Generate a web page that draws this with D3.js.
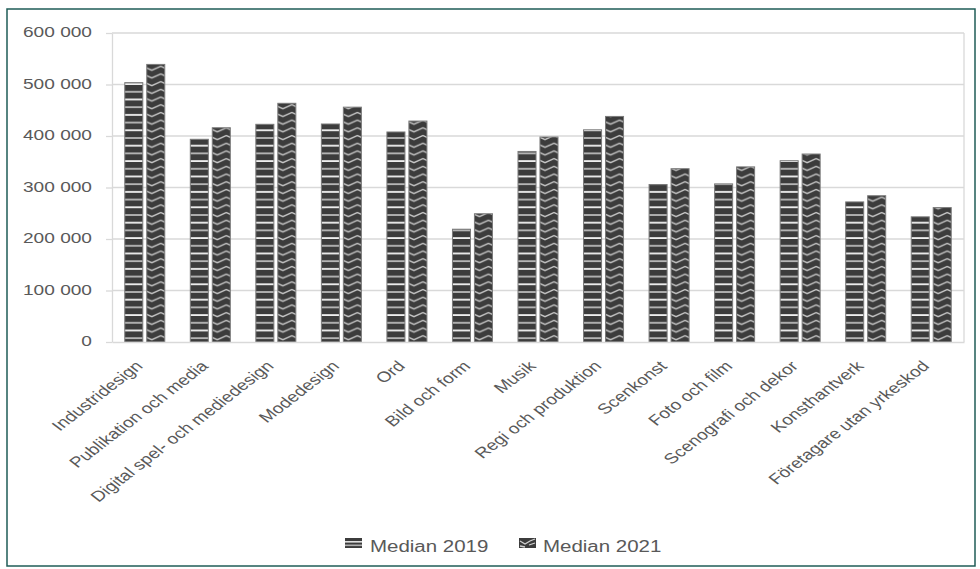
<!DOCTYPE html>
<html>
<head>
<meta charset="utf-8">
<script src="https://cdn.jsdelivr.net/npm/d3@7"></script>
<style>
  html, body { margin: 0; padding: 0; background: #fff; }
  svg { display: block; font-family: "Liberation Sans", Arial, sans-serif; }
</style>
</head>
<body>
<svg id="chart" width="980" height="569"></svg>
<script>
const categories = ["Industridesign", "Publikation och media", "Digital spel- och mediedesign", "Modedesign", "Ord", "Bild och form", "Musik", "Regi och produktion", "Scenkonst", "Foto och film", "Scenografi och dekor", "Konsthantverk", "Företagare utan yrkeskod"];
const seriesNames = ["Median 2019", "Median 2021"];
const median2019 = [503500, 393600, 422700, 423300, 407800, 219000, 370000, 412000, 305800, 307000, 352000, 272000, 243000];
const median2021 = [539000, 416000, 463500, 456000, 429000, 249000, 398000, 438000, 336500, 340000, 365000, 284000, 261000];
const yTicks = [0, 100000, 200000, 300000, 400000, 500000, 600000];

const SX = 1.3; // horizontal stretch of the reference
const textColor = "#595959";
const svg = d3.select("#chart");

const locale = d3.formatLocale({decimal: ",", thousands: " ", grouping: [3], currency: ["", ""]});
const fmt = locale.format(",d");

const plot = {left: 112, right: 964, top: 33, bottom: 342};

// outer border
svg.append("rect").attr("x", 7).attr("y", 9).attr("width", 968).attr("height", 557)
  .attr("fill", "#fff").attr("stroke", "#1f5c57").attr("stroke-width", 1.5);

// patterns
const defs = svg.append("defs");
const pH = defs.append("pattern").attr("id", "pH").attr("patternUnits", "userSpaceOnUse")
  .attr("width", 8).attr("height", 15.4).attr("y", 342);
pH.append("rect").attr("width", 8).attr("height", 15.4).attr("fill", "#3c3c3c");
pH.append("rect").attr("y", 3).attr("width", 8).attr("height", 1.8).attr("fill", "#f2f2f2");
pH.append("rect").attr("y", 10.7).attr("width", 8).attr("height", 1.8).attr("fill", "#b8b8b8");

const pZ = defs.append("pattern").attr("id", "pZ").attr("patternUnits", "userSpaceOnUse")
  .attr("width", 18).attr("height", 7.7).attr("y", 342);
pZ.append("rect").attr("width", 18).attr("height", 7.7).attr("fill", "#3c3c3c");
pZ.append("path").attr("d", "M-1,1 L9,5.5 L19,1").attr("fill", "none")
  .attr("stroke", "#c8c8c8").attr("stroke-width", 1.4);

const pZL = defs.append("pattern").attr("id", "pZL").attr("patternUnits", "userSpaceOnUse")
  .attr("width", 17).attr("height", 10).attr("x", 519).attr("y", 538);
pZL.append("rect").attr("width", 17).attr("height", 10).attr("fill", "#3c3c3c");
pZL.append("path").attr("d", "M1,3 L6,6 L11,3 L16,1 M1,8 L6,9 M10,7 L16,5").attr("fill", "none")
  .attr("stroke", "#d0d0d0").attr("stroke-width", 1.3);

const x = d3.scaleBand().domain(categories).range([plot.left, plot.right]);
const x1 = d3.scaleBand().domain(seriesNames).range([0, 40]).paddingInner(0.18);
const y = d3.scaleLinear().domain([0, 600000]).range([plot.bottom, plot.top]);

// gridlines
svg.append("g").selectAll("line").data(yTicks.filter(d => d > 0)).join("line")
  .attr("x1", plot.left).attr("x2", plot.right)
  .attr("y1", d => y(d)).attr("y2", d => y(d))
  .attr("stroke", "#d9d9d9").attr("stroke-width", 1.3);
// right border of plot
svg.append("line").attr("x1", plot.right).attr("x2", plot.right)
  .attr("y1", plot.top).attr("y2", plot.bottom).attr("stroke", "#d9d9d9").attr("stroke-width", 1.3);

// y axis
const yAxis = svg.append("g").attr("transform", `translate(${plot.left},0)`)
  .call(d3.axisLeft(y).tickValues(yTicks).tickFormat(fmt).tickSize(6).tickSizeOuter(0));
yAxis.select(".domain").attr("stroke", "#d9d9d9").attr("stroke-width", 1.3);
yAxis.selectAll(".tick line").attr("stroke", "#d9d9d9").attr("stroke-width", 1.3);
yAxis.selectAll(".tick text")
  .attr("x", 0).attr("dy", null).attr("dominant-baseline", "middle")
  .attr("transform", `translate(-20,0) scale(${SX},1)`)
  .attr("text-anchor", "end").attr("fill", textColor)
  .style("font-size", "14.7px").style("font-family", "'Liberation Sans', Arial, sans-serif");

// bars
const data = categories.map((c, i) => ({cat: c, vals: [median2019[i], median2021[i]]}));
const groups = svg.append("g").selectAll("g").data(data).join("g")
  .attr("transform", d => `translate(${x(d.cat) + x.bandwidth() / 2 - 20},0)`);
groups.selectAll("rect").data(d => d.vals.map((v, j) => ({s: seriesNames[j], v, j}))).join("rect")
  .attr("x", d => x1(d.s))
  .attr("width", x1.bandwidth())
  .attr("y", d => y(d.v))
  .attr("height", d => plot.bottom - y(d.v))
  .attr("fill", d => d.j === 0 ? "url(#pH)" : "url(#pZ)")
  .attr("stroke", "#7a7a7a").attr("stroke-width", 1);

// x axis
const xAxis = svg.append("g").attr("transform", `translate(0,${plot.bottom})`)
  .call(d3.axisBottom(x).tickSize(0).tickSizeOuter(0));
xAxis.select(".domain").attr("stroke", "#d9d9d9").attr("stroke-width", 1.3);
xAxis.selectAll(".tick text")
  .attr("x", 0).attr("y", 0).attr("dy", null)
  .attr("transform", `translate(-1,25) scale(${SX},1) rotate(-45)`)
  .attr("text-anchor", "end").attr("fill", textColor)
  .style("font-size", "14.7px").style("font-family", "'Liberation Sans', Arial, sans-serif");

// legend
const legendItems = [
  {name: seriesNames[0], sx: 345, tx: 370, fill: null},
  {name: seriesNames[1], sx: 519, tx: 543, fill: "url(#pZL)"}
];
const lg = svg.append("g");
legendItems.forEach((it, i) => {
  if (i === 0) {
    lg.append("rect").attr("x", it.sx).attr("y", 538).attr("width", 17).attr("height", 10).attr("fill", "#3c3c3c");
    lg.append("rect").attr("x", it.sx).attr("y", 541).attr("width", 17).attr("height", 1.6).attr("fill", "#e0e0e0");
    lg.append("rect").attr("x", it.sx).attr("y", 544.5).attr("width", 17).attr("height", 1.6).attr("fill", "#b0b0b0");
  } else {
    lg.append("rect").attr("x", it.sx).attr("y", 538).attr("width", 17).attr("height", 10).attr("fill", it.fill);
  }
  lg.append("text").attr("transform", `translate(${it.tx},552) scale(1.28,1)`)
    .attr("fill", textColor).style("font-size", "16px").text(it.name);
});
</script>
</body>
</html>
